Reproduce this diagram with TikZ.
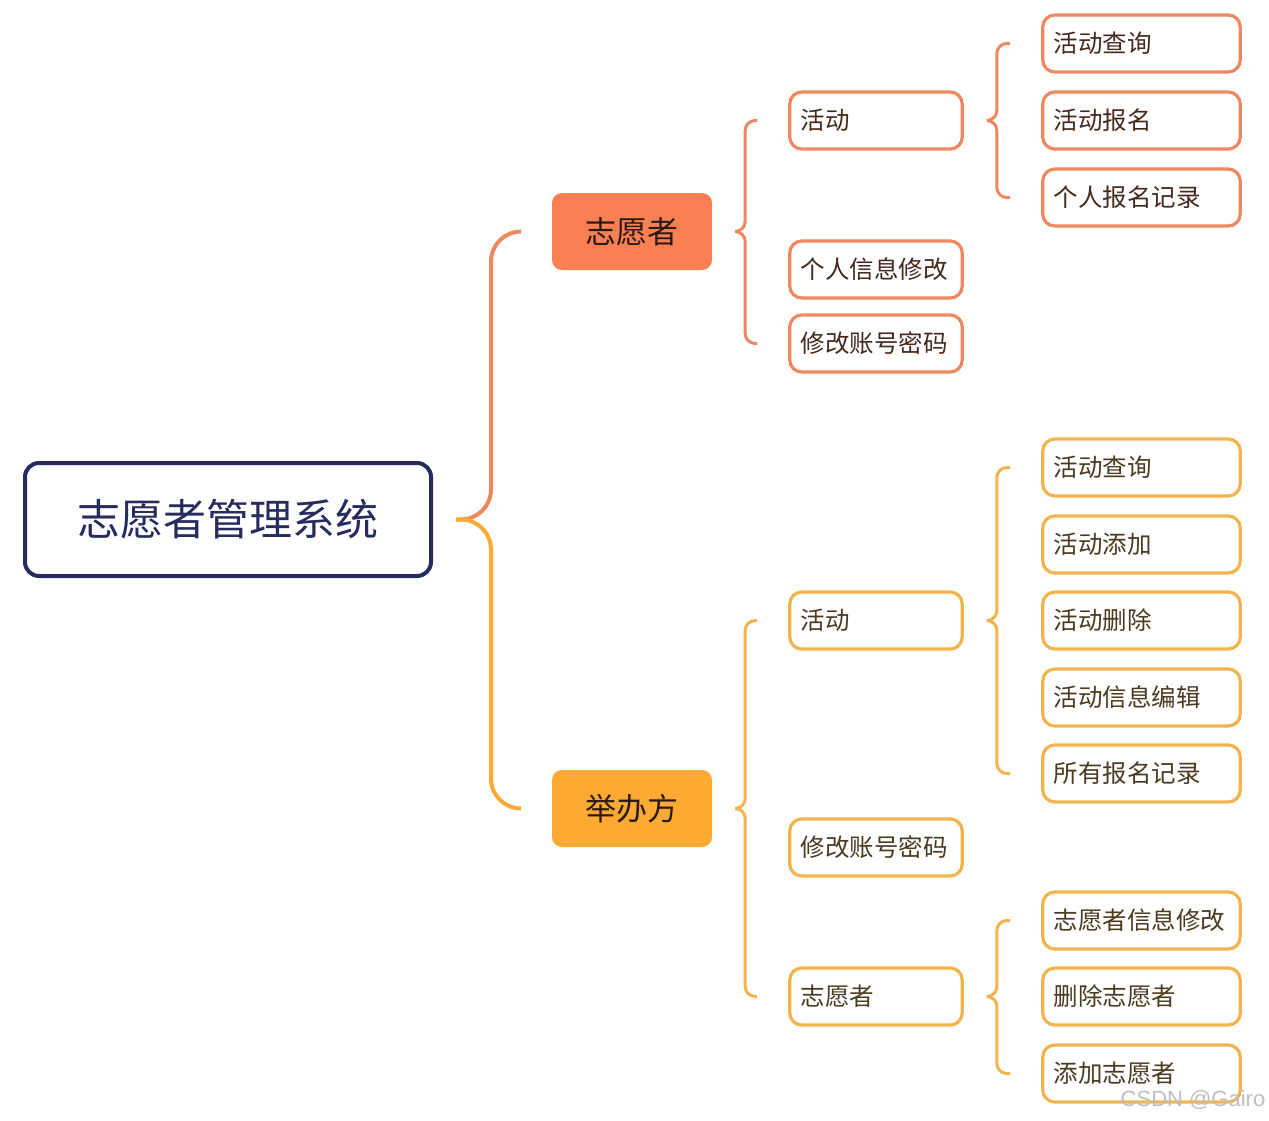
\documentclass[tikz,border=0pt]{standalone}
\usepackage{fontspec}
\setmainfont{Noto Sans CJK SC}
\newfontfamily\markfont{Liberation Sans}
\usetikzlibrary{positioning}
\definecolor{vmsNavy}{HTML}{262C5E}
\definecolor{vmsOrange}{HTML}{FA8053}
\definecolor{vmsOrangeLine}{HTML}{EE8861}
\definecolor{vmsYellow}{HTML}{FCAA34}
\definecolor{vmsYellowLine}{HTML}{F3B44D}
\definecolor{vmsInk}{HTML}{2B1A10}
\definecolor{vmsBrownA}{HTML}{45291C}
\definecolor{vmsBrownB}{HTML}{4A3A20}

\begin{document}
\begin{tikzpicture}[
  x=1pt, y=-1pt,
  root/.style={draw=vmsNavy, line width=4pt, rounded corners=14pt,
               minimum width=406pt, minimum height=113pt, text=vmsNavy,
               font=\fontsize{43}{43}\selectfont},
  role/.style={fill=#1, rounded corners=10pt, minimum width=160pt,
               minimum height=77pt, text=vmsInk,
               font=\fontsize{31}{31}\selectfont},
  leaf/.style={draw=#1, line width=3.2pt, rounded corners=12pt, fill=white,
               minimum height=57pt, inner xsep=11pt, align=left,
               font=\fontsize{24.5}{24.5}\selectfont},
  leafA/.style={leaf=vmsOrangeLine, text=vmsBrownA},
  leafB/.style={leaf=vmsYellowLine, text=vmsBrownB},
  midbox/.style={text width=150.5pt},
  endbox/.style={text width=175.5pt},
  mainlink/.style={draw=#1, line width=4pt, rounded corners=30pt},
  sublink/.style={draw=#1, line width=3pt, rounded corners=10pt},
  watermark/.style={text=black!25, font=\markfont\fontsize{22}{22}\selectfont,
                    inner sep=0pt},
]
\useasboundingbox[fill=white] (0,0) rectangle (1269,1121);

% brace arm from a parent to one of its children
\newcommand{\curlto}[4]{%
  \draw[#1] ([xshift=23pt]#2.east) -- ++(#4,0) |- ([xshift=-31pt]#3.west);}

% ================================ root =======================================
\node[root] (root) at (228,519.5) {志愿者管理系统};

% ============================== the two roles ================================
\node[role=vmsOrange] (vol) at (632,231.5) {志愿者};
\node[role=vmsYellow] (org) at (632,808.5) {举办方};

% ========================= volunteer side (orange) ===========================
\node[leafA, midbox] (vAct)  at (876,120.5) {活动};
\node[leafA, midbox] (vInfo) at (876,269.5) {个人信息修改};
\node[leafA, midbox] (vPwd)  at (876,343.5) {修改账号密码};

\foreach \name/\y/\txt in {vActQuery/43.5/活动查询, vActSign/120.5/活动报名,
                           vRecord/197.5/个人报名记录}
  \node[leafA, endbox] (\name) at (1141.5,\y) {\txt};

% ========================= organiser side (yellow) ===========================
\node[leafB, midbox] (oAct) at (876,620.5) {活动};
\node[leafB, midbox] (oPwd) at (876,847.5) {修改账号密码};
\node[leafB, midbox] (oVol) at (876,996.5) {志愿者};

\foreach \name/\y/\txt in {oActQuery/467.5/活动查询, oActAdd/544.5/活动添加,
                           oActDel/620.5/活动删除, oActEdit/697.5/活动信息编辑,
                           oAllRec/773.5/所有报名记录, oVolEdit/920.5/志愿者信息修改,
                           oVolDel/996.5/删除志愿者, oVolAdd/1073.5/添加志愿者}
  \node[leafB, endbox] (\name) at (1141.5,\y) {\txt};

% ================================ braces =====================================
\curlto{mainlink=vmsOrangeLine}{root}{vol}{35}
\curlto{mainlink=vmsYellow}{root}{org}{35}

\curlto{sublink=vmsOrangeLine}{vol}{vAct}{10}
\curlto{sublink=vmsOrangeLine}{vol}{vPwd}{10}
\curlto{sublink=vmsOrangeLine}{vAct}{vActQuery}{10}
\curlto{sublink=vmsOrangeLine}{vAct}{vRecord}{10}

\curlto{sublink=vmsYellowLine}{org}{oAct}{10}
\curlto{sublink=vmsYellowLine}{org}{oVol}{10}
\curlto{sublink=vmsYellowLine}{oAct}{oActQuery}{10}
\curlto{sublink=vmsYellowLine}{oAct}{oAllRec}{10}
\curlto{sublink=vmsYellowLine}{oVol}{oVolEdit}{10}
\curlto{sublink=vmsYellowLine}{oVol}{oVolAdd}{10}

\node[watermark] (mark) at (1193,1100) {CSDN @Gairo};
\end{tikzpicture}
\end{document}
